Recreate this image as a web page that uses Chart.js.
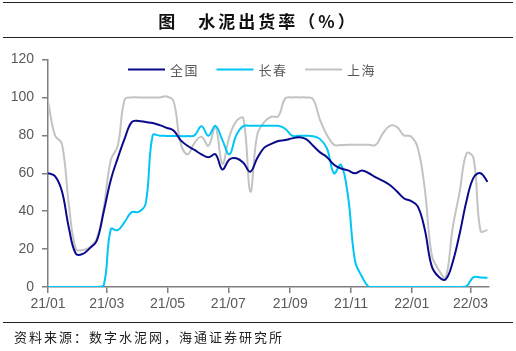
<!DOCTYPE html>
<html>
<head>
<meta charset="utf-8">
<script src="https://cdn.jsdelivr.net/npm/chart.js@4.4.1/dist/chart.umd.min.js"></script>
<style>
  html, body { margin: 0; padding: 0; background: #fff; }
  #wrap { position: relative; width: 516px; height: 351px; overflow: hidden; }
  #chart { position: absolute; left: 0; top: 0; }
  .rule { position: absolute; left: 3px; width: 510px; height: 1px; background: #222; }
  #title {
    position: absolute; left: 0; top: 9px; width: 516px; text-align: center;
    font: bold 17px "Noto Sans CJK SC", sans-serif; letter-spacing: 3px; color: #111;
    line-height: 24px;
  }
  #source {
    position: absolute; left: 14px; top: 328px;
    font: 13px "Noto Sans CJK SC", sans-serif; letter-spacing: 2px; color: #222;
    line-height: 18px;
  }
</style>
</head>
<body>
<div id="wrap">
  <canvas id="chart" width="516" height="351"></canvas>
  <div class="rule" style="top:2px"></div>
  <div id="title">图　水泥出货率（%）</div>
  <div class="rule" style="top:37px"></div>
  <div class="rule" style="top:322px"></div>
  <div id="source">资料来源：数字水泥网，海通证券研究所</div>
</div>
<script>
// x 轴：以 2021-01-01 为第 0 天，每周一个数据点
const weekDays = Array.from({ length: 64 }, (_, i) => i * 7);

// 刻度位置（天数）与标签
const tickDays = [0, 59, 120, 181, 243, 304, 365, 424];
const tickLabels = ['21/01', '21/03', '21/05', '21/07', '21/09', '21/11', '22/01', '22/03'];

const seriesNames = ['全国', '长春', '上海'];
const seriesColors = ['#0a0a8c', '#00c6f6', '#c3c3c3'];

// 全国
const national = [60, 58.5, 50.5, 31, 17.5, 17.5, 20.5, 24.5, 40, 56.5,
  68, 78.4, 87, 87.6, 87, 86.5, 85.4, 84, 82.5, 77.5,
  74.5, 72.3, 70, 68.4, 70, 62, 67.3, 67.9, 65.5, 60.8,
  68, 73.5, 75.5, 77, 77.5, 78.4, 79, 78, 74.5, 71,
  68.5, 64.5, 62.5, 61.5, 60, 61.5, 60, 57.8, 56, 53.8,
  50.5, 46.8, 45.4, 42.5, 30.5, 11, 5.4, 4, 13, 28,
  45.5, 57.7, 60, 55.5];

// 长春
const changchun = [0, 0, 0, 0, 0, 0, 0, 0, 1, 30.5,
  30, 34.4, 39.5, 39.6, 44, 80, 79.8, 79.7, 79.6, 79.6,
  79.6, 80, 84.8, 79.8, 85, 77.5, 70, 80.2, 84.9, 85,
  85, 85, 85, 85, 83.5, 79.8, 79.8, 79.8, 79.5, 78,
  73, 60, 64.5, 48, 14, 5.5, 0, 0, 0, 0,
  0, 0, 0, 0, 0, 0, 0, 0, 0, 0,
  0.5, 5.2, 5, 4.9];

// 上海
const shanghai = [98, 80, 75.5, 43, 20, 19.5, 21, 25.5, 42, 67,
  74.5, 99, 100, 100, 100, 100, 100, 100.5, 98, 76,
  70, 76, 79.3, 74.5, 84.5, 65, 79.3, 87.5, 89, 50.3,
  80.5, 87, 89.8, 90, 99.5, 100, 100, 100, 99, 88,
  80, 75, 74.9, 75, 75, 75, 75, 75, 81, 85,
  84.5, 80, 79.5, 73.5, 52, 17, 9, 5, 31, 50,
  70.5, 68, 29.5, 30];

const yTicks = [0, 20, 40, 60, 80, 100, 120];

const AXIS_COLOR = '#7f7f7f';
const TEXT_COLOR = '#595959';

function toPoints(values) {
  return values.map((v, i) => ({ x: weekDays[i], y: v }));
}

// 图例画在绘图区内部
const plotLegend = {
  id: 'plotLegend',
  afterDraw(chart) {
    const { ctx, chartArea } = chart;
    ctx.save();
    ctx.font = '13px "Noto Sans CJK SC", sans-serif';
    ctx.letterSpacing = '1.5px';
    ctx.textBaseline = 'middle';
    chart.data.datasets.forEach((ds, i) => {
      const x0 = chartArea.left + 80 + i * 88.5;
      const y = chartArea.top + 10;
      ctx.strokeStyle = ds.borderColor;
      ctx.lineWidth = 2;
      ctx.beginPath();
      ctx.moveTo(x0, y);
      ctx.lineTo(x0 + 37, y);
      ctx.stroke();
      ctx.fillStyle = TEXT_COLOR;
      ctx.fillText(ds.label, x0 + 42, y + 0.5);
    });
    ctx.restore();
  }
};

const seriesData = [national, changchun, shanghai];

new Chart(document.getElementById('chart'), {
  type: 'line',
  data: {
    datasets: seriesData.map((values, i) => ({
      label: seriesNames[i],
      data: toPoints(values),
      borderColor: seriesColors[i],
      backgroundColor: seriesColors[i],
      borderWidth: 2,
      pointRadius: 0,
      tension: 0.4,
      fill: false
    }))
  },
  options: {
    responsive: false,
    animation: false,
    devicePixelRatio: 1,
    layout: { padding: { left: 0, right: 27.5, top: 59.5, bottom: 34 } },
    plugins: {
      legend: { display: false },
      tooltip: { enabled: false }
    },
    scales: {
      x: {
        type: 'linear',
        min: 0,
        max: 442,
        afterBuildTicks: (scale) => { scale.ticks = tickDays.map(v => ({ value: v })); },
        afterFit: (scale) => { scale.height = 30; },
        ticks: {
          autoSkip: false,
          maxRotation: 0,
          padding: 3,
          color: TEXT_COLOR,
          font: { family: 'Liberation Sans, Arial', size: 14 },
          callback: (value) => tickLabels[tickDays.indexOf(value)]
        },
        grid: { display: true, drawOnChartArea: false, drawTicks: true, tickLength: 6, color: AXIS_COLOR, lineWidth: 1.5 },
        border: { display: true, color: AXIS_COLOR, width: 1.5 }
      },
      y: {
        min: 0,
        max: 120,
        afterBuildTicks: (scale) => { scale.ticks = yTicks.map(v => ({ value: v })); },
        afterFit: (scale) => { scale.width = 48; },
        ticks: {
          padding: 8,
          color: TEXT_COLOR,
          font: { family: 'Liberation Sans, Arial', size: 14 }
        },
        grid: { display: true, drawOnChartArea: false, drawTicks: true, tickLength: 6, color: AXIS_COLOR, lineWidth: 1.5 },
        border: { display: true, color: AXIS_COLOR, width: 1.5 }
      }
    }
  },
  plugins: [plotLegend]
});
</script>
</body>
</html>
